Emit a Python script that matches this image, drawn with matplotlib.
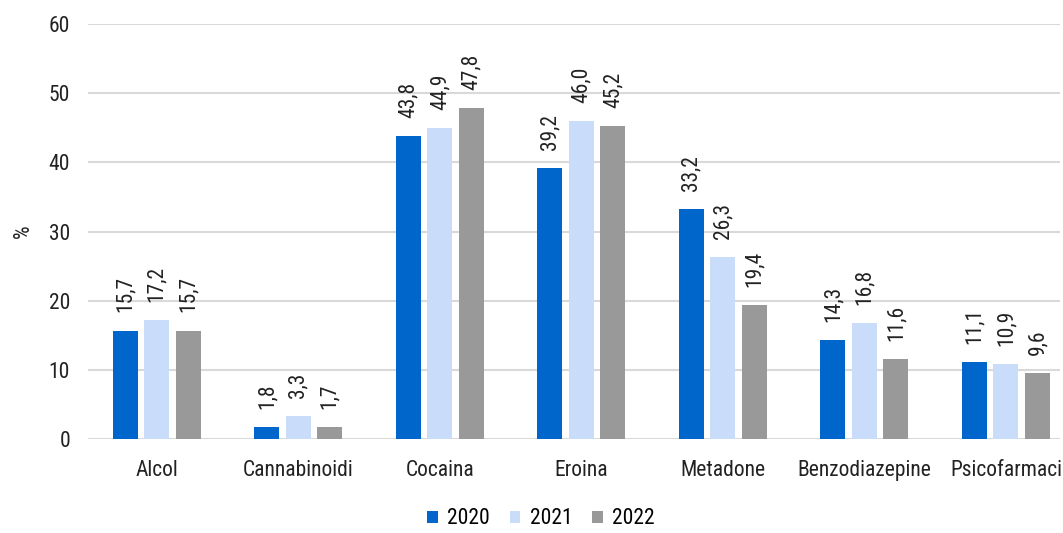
import matplotlib.pyplot as plt
import numpy as np

categories = ['Alcol', 'Cannabinoidi', 'Cocaina', 'Eroina', 'Metadone',
              'Benzodiazepine', 'Psicofarmaci']
years = ['2020', '2021', '2022']
v2020 = [15.7, 1.8, 43.8, 39.2, 33.2, 14.3, 11.1]
v2021 = [17.2, 3.3, 44.9, 46.0, 26.3, 16.8, 10.9]
v2022 = [15.7, 1.7, 47.8, 45.2, 19.4, 11.6, 9.6]
colors = ['#0066CC', '#C9DDFB', '#999999']

plt.rcParams['font.family'] = ['Roboto Condensed', 'DejaVu Sans']

fig = plt.figure(figsize=(10.63, 5.33), dpi=100)
ax = fig.add_axes([0.083, 0.176, 0.914, 0.779])

x = np.arange(len(categories))
step = 0.2225
width = 0.176
for i, (vals, year) in enumerate(zip([v2020, v2021, v2022], years)):
    pos = x + (i - 1) * step
    ax.bar(pos, vals, width, color=colors[i], label=year, zorder=3)
    for p, v in zip(pos, vals):
        ax.annotate(('%.1f' % v).replace('.', ','), (p, v), xytext=(0, 13),
                    textcoords='offset points', rotation=90,
                    ha='center', va='bottom', fontsize=15.5, color='#222222')

# category slots are a bit wider than the gridlines reach
ax.set_xlim(-0.484, 6.381)
ax.set_ylim(0, 60)
ax.set_yticks(range(0, 61, 10))
ax.set_xticks(x)
ax.set_xticklabels(categories)
ax.tick_params(axis='both', length=0, labelsize=15.5, colors='#222222')
ax.tick_params(axis='y', pad=13)
ax.tick_params(axis='x', pad=15)
ax.grid(axis='y', color='#D9D9D9', linewidth=1.5, zorder=0)
for s in ax.spines.values():
    s.set_visible(False)
ax.set_ylabel('%', fontsize=15.5, color='#222222', labelpad=11)

ax.legend(loc='upper center', bbox_to_anchor=(0.466, -0.12), ncol=3, frameon=False,
          fontsize=15.5, handlelength=0.5, handleheight=0.5, handletextpad=0.45,
          columnspacing=0.9)

fig.savefig('out.png', dpi=100)
